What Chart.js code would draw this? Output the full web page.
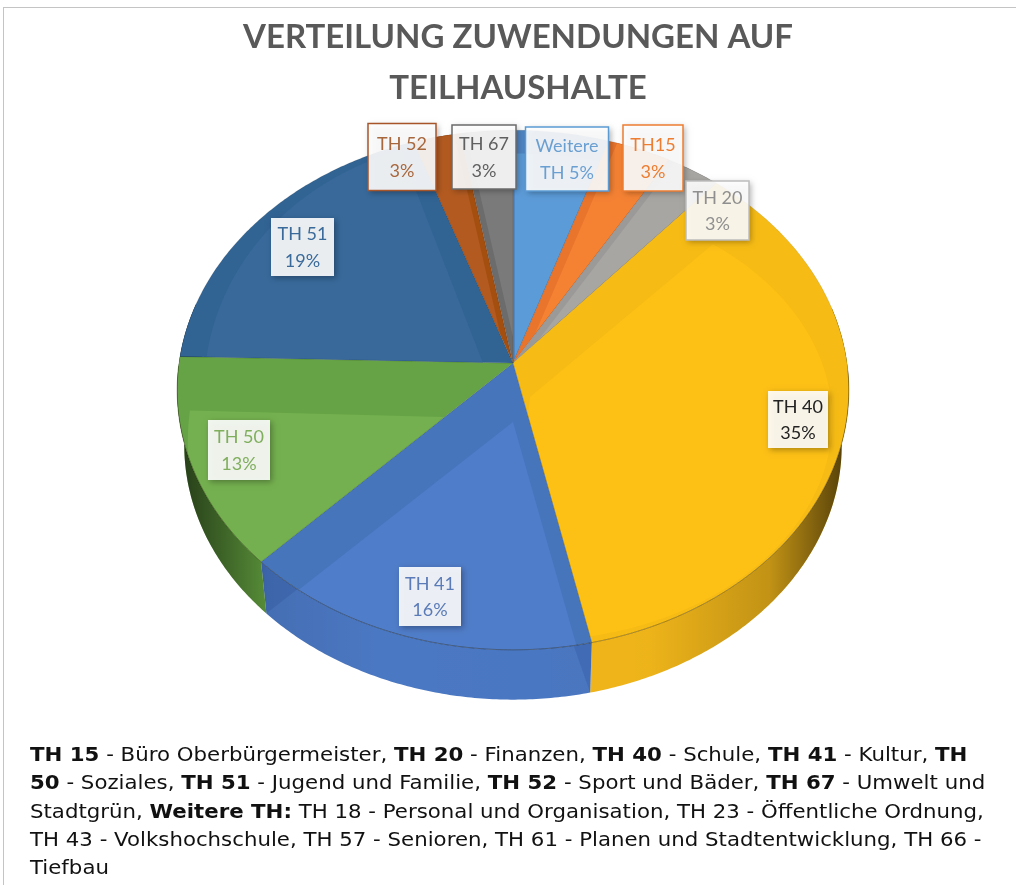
<!DOCTYPE html>
<html lang="de">
<head>
<meta charset="utf-8">
<title>Verteilung Zuwendungen auf Teilhaushalte</title>
<script src="https://cdn.jsdelivr.net/npm/chart.js@4"></script>
<style>
    html, body { margin: 0; padding: 0; background: #fff; }
    #page { position: relative; width: 1016px; height: 885px; overflow: hidden; }
    #frame { position: absolute; left: 3px; top: 7px; right: 0; bottom: 0; border-left: 1px solid #c4c4c4; border-top: 1px solid #c4c4c4; }
    canvas { position: absolute; left: 0; top: 0; }
    #note { position: absolute; left: 30px; top: 741px; font: 19.5px/28.3px "DejaVu Sans", sans-serif; color: #111; white-space: nowrap; transform: scaleX(1.092); transform-origin: left top; }
</style>
</head>
<body>
<div id="page">
    <div id="frame"></div>
    <canvas id="pie" width="1016" height="885"></canvas>
    <div id="note">
        <b>TH 15</b> - Büro Oberbürgermeister, <b>TH 20</b> - Finanzen, <b>TH 40</b> - Schule, <b>TH 41</b> - Kultur, <b>TH</b><br>
        <b>50</b> - Soziales, <b>TH 51</b> - Jugend und Familie, <b>TH 52</b> - Sport und Bäder, <b>TH 67</b> - Umwelt und<br>
        Stadtgrün, <b>Weitere TH:</b> TH 18 - Personal und Organisation, TH 23 - Öffentliche Ordnung,<br>
        TH 43 - Volkshochschule, TH 57 - Senioren, TH 61 - Planen und Stadtentwicklung, TH 66 -<br>
        Tiefbau
    </div>
</div>
<script>
'use strict';

// Values, clockwise from 12 o'clock
const categories = ['Weitere', 'TH15', 'TH 20', 'TH 40', 'TH 41', 'TH 50', 'TH 51', 'TH 52', 'TH 67'];
const shares = [5.1, 3.4, 2.9, 35.2, 15.7, 13.1, 19.3, 2.5, 2.8];
const shareLabels = ['TH 5%', '3%', '3%', '35%', '16%', '13%', '19%', '3%', '3%'];

// Colors
const faceColors = ['#5b9bd8', '#f58233', '#a8a6a3', '#fdc015', '#507dc9', '#74b04f', '#38699a', '#b35a20', '#7a7a7a'];
const bandColors = ['#4f87c4', '#e9742c', '#9c9a98', '#f6bb14', '#4675bc', '#66a346', '#316393', '#a44f10', '#6c6c6c'];
const wallColors = ['#4f87c4', '#e9742c', '#9c9a98', '#f2b71a', '#4b78c3', '#5f9a3d', '#2f6190', '#a44f10', '#6c6c6c'];
const labelColors = ['#6a9fd2', '#ed7d31', '#8f8f8f', '#222222', '#5a7bb8', '#7fae5c', '#3a6a9a', '#a8673d', '#606060'];
const labelBorders = ['#5b9bd5', '#ed7d31', '#bdbdbd', null, null, null, null, '#a9552a', '#6b6b6b'];

// Label boxes: center x, center y, width, height
const labelBoxes = [
    [567, 159, 83, 64], [653, 158, 60, 66], [717.5, 210.5, 63, 59],
    [798, 419.5, 60, 57], [430, 596.5, 62, 59], [239, 450, 62, 60],
    [302.5, 247, 63, 58], [402, 157, 68, 67], [484, 157, 64, 64]
];

// Top-face bevel per slice: offset of the inner face, its scale, overshoot past the end edge
const bevels = [
    [2, 0, 1, 0.9, 0], [12, -6, 1, 1, 0], [14, -8, 1, 1, 0],
    [17, 34, 0.9, 0.85, 0.3], [0, 59, 0.85, 0.844, 0], [-70, 54, 0.76, 1, 0],
    [-30, 0, 0.83, 0.96, 0], [-6, 0, 1, 1, 0], [6, 0, 1, 1, 0]
];

// Perspective of the tilted disc
const apexX = 513;
const apexY = 363;
const discA = 334;
const discB = 257;
const discK = 0.104;
const wallScale = 0.0212;
const wallVanishY = 3000;

function project(t) {
    const x = Math.sin(t);
    const z = -Math.cos(t);
    const d = 1 - discK * z;
    return { x: apexX + discA * x / d, y: apexY + discB * z / d };
}

function projectBottom(t) {
    const p = project(t);
    return { x: p.x + (apexX - p.x) * wallScale, y: p.y + (wallVanishY - p.y) * wallScale };
}

function arcPoints(t1, t2, fn) {
    const steps = Math.max(2, Math.ceil(Math.abs(t2 - t1) / 0.01));
    const pts = [];
    for (let i = 0; i <= steps; i++) {
        pts.push(fn(t1 + (t2 - t1) * i / steps));
    }
    return pts;
}

function tracePoints(ctx, pts, start) {
    pts.forEach((p, i) => {
        if (i === 0 && start) {
            ctx.moveTo(p.x, p.y);
        } else {
            ctx.lineTo(p.x, p.y);
        }
    });
}

function sliceAngles(arc) {
    return [arc.startAngle + Math.PI / 2, arc.endAngle + Math.PI / 2];
}

function drawWall(ctx, arc, i) {
    let [t1, t2] = sliceAngles(arc);
    t1 = Math.max(t1, 1.35);
    t2 = Math.min(t2, 4.95);
    if (t2 <= t1) {
        return;
    }
    const rim = arcPoints(t1, t2, project);
    const bottom = arcPoints(t2, t1, projectBottom);
    ctx.beginPath();
    tracePoints(ctx, rim, true);
    tracePoints(ctx, bottom, false);
    ctx.closePath();
    ctx.fillStyle = wallColors[i];
    ctx.fill();

    // wall gets darker towards the sides of the disc
    const shade = ctx.createLinearGradient(178, 0, 850, 0);
    shade.addColorStop(0, 'rgba(0,0,0,0.62)');
    shade.addColorStop(0.08, 'rgba(0,0,0,0.3)');
    shade.addColorStop(0.135, 'rgba(0,0,0,0.08)');
    shade.addColorStop(0.3, 'rgba(0,0,0,0)');
    shade.addColorStop(0.7, 'rgba(0,0,0,0.02)');
    shade.addColorStop(0.88, 'rgba(0,0,0,0.2)');
    shade.addColorStop(1, 'rgba(0,0,0,0.68)');
    ctx.fillStyle = shade;
    ctx.fill();
}

function drawWallWedges(ctx, arc) {
    const [t1, t2] = sliceAngles(arc);
    const wedges = [[t2, t2 - 0.14], [t1, t1 + 0.05]];
    ctx.fillStyle = 'rgba(30,60,130,0.18)';
    wedges.forEach(([edge, inner]) => {
        const a = project(edge);
        const b = projectBottom(edge);
        const c = project(inner);
        ctx.beginPath();
        ctx.moveTo(a.x, a.y);
        ctx.lineTo(b.x, b.y);
        ctx.lineTo(c.x, c.y);
        ctx.closePath();
        ctx.fill();
    });
}

function drawFace(ctx, arc, i) {
    const [t1, t2] = sliceAngles(arc);
    const rim = arcPoints(t1, t2, project);

    ctx.save();
    ctx.beginPath();
    ctx.moveTo(apexX, apexY);
    tracePoints(ctx, rim, false);
    ctx.closePath();
    ctx.fillStyle = bandColors[i];
    ctx.fill();
    ctx.clip();

    const [ox, oy, sx, sy, over] = bevels[i];
    const inner = arcPoints(t1, t2 + over, project).map(p => ({
        x: apexX + ox + (p.x - apexX) * sx,
        y: apexY + oy + (p.y - apexY) * sy
    }));
    ctx.beginPath();
    ctx.moveTo(apexX + ox, apexY + oy);
    tracePoints(ctx, inner, false);
    ctx.closePath();
    ctx.fillStyle = faceColors[i];
    ctx.fill();
    ctx.restore();

    // thin edge between the slices
    ctx.beginPath();
    ctx.moveTo(apexX, apexY);
    tracePoints(ctx, rim, false);
    ctx.closePath();
    ctx.strokeStyle = 'rgba(0,0,0,0.1)';
    ctx.lineWidth = 1;
    ctx.stroke();
}

function drawFrontRim(ctx, arc) {
    let [t1, t2] = sliceAngles(arc);
    t1 = Math.max(t1, 1.6);
    t2 = Math.min(t2, 4.7);
    if (t2 <= t1) {
        return;
    }
    ctx.beginPath();
    tracePoints(ctx, arcPoints(t1, t2, project), true);
    ctx.strokeStyle = 'rgba(40,30,0,0.3)';
    ctx.lineWidth = 1;
    ctx.stroke();
}

function drawLabel(ctx, i) {
    const [cx, cy, w, h] = labelBoxes[i];
    const x = cx - w / 2;
    const y = cy - h / 2;

    ctx.save();
    ctx.shadowColor = 'rgba(0,0,0,0.35)';
    ctx.shadowBlur = 6;
    ctx.shadowOffsetX = 2;
    ctx.shadowOffsetY = 2;
    ctx.fillStyle = 'rgba(255,255,255,0.9)';
    ctx.fillRect(x, y, w, h);
    ctx.restore();

    if (labelBorders[i]) {
        ctx.strokeStyle = labelBorders[i];
        ctx.lineWidth = 1.5;
        ctx.strokeRect(x, y, w, h);
    }

    ctx.fillStyle = labelColors[i];
    ctx.font = '18px Lato, sans-serif';
    ctx.textAlign = 'center';
    ctx.textBaseline = 'middle';
    ctx.fillText(categories[i], cx, cy - 12.5);
    ctx.fillText(shareLabels[i], cx, cy + 14);
}

// Chart.js has no 3D pie, so the arcs it computes are painted on a tilted disc
const tiltedDisc = {
    id: 'tiltedDisc',
    beforeDatasetDraw(chart, args) {
        const ctx = chart.ctx;
        const arcs = args.meta.data;
        arcs.forEach((arc, i) => drawWall(ctx, arc, i));
        drawWallWedges(ctx, arcs[4]);
        arcs.forEach((arc, i) => drawFace(ctx, arc, i));
        arcs.forEach(arc => drawFrontRim(ctx, arc));
        return false;
    },
    afterDatasetsDraw(chart) {
        categories.forEach((name, i) => drawLabel(chart.ctx, i));
    }
};

new Chart(document.getElementById('pie'), {
    type: 'pie',
    data: {
        labels: categories,
        datasets: [{
            data: shares,
            backgroundColor: faceColors
        }]
    },
    options: {
        responsive: false,
        animation: false,
        layout: {
            padding: { left: 20 }
        },
        plugins: {
            legend: { display: false },
            tooltip: { enabled: false },
            title: {
                display: true,
                text: ['VERTEILUNG ZUWENDUNGEN AUF', 'TEILHAUSHALTE'],
                color: '#595959',
                font: { family: 'Lato, sans-serif', size: 33, weight: 'bold', lineHeight: 1.55 },
                padding: { top: 12, bottom: 10 }
            }
        }
    },
    plugins: [tiltedDisc]
});
</script>
</body>
</html>
